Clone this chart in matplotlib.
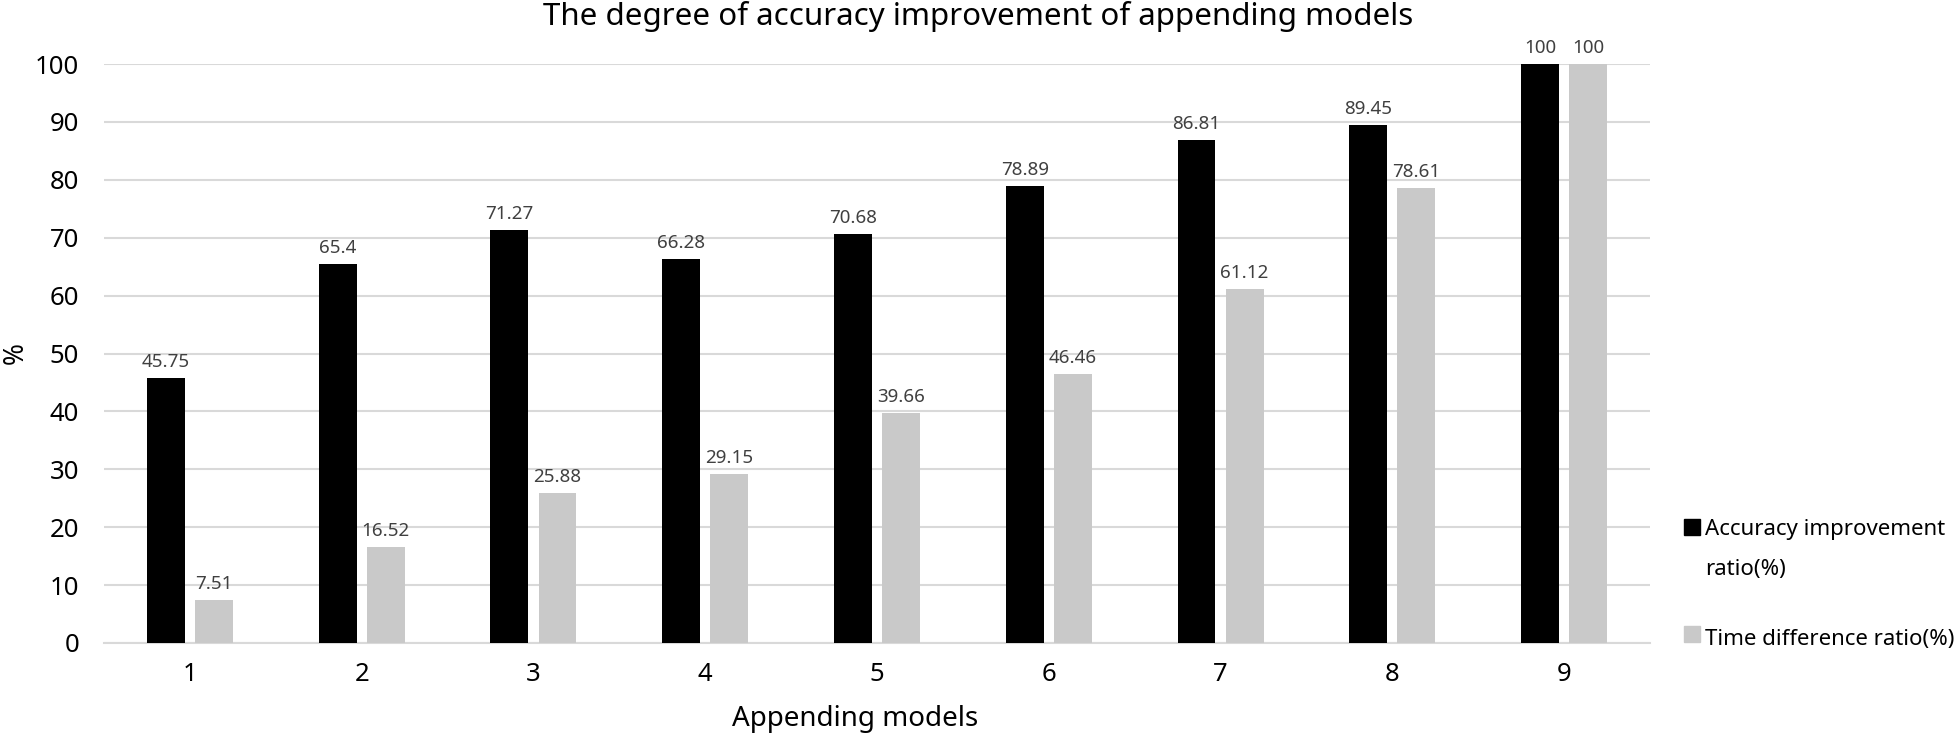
import matplotlib
matplotlib.use("Agg")
import matplotlib.pyplot as plt
import numpy as np
from matplotlib.patches import Rectangle

plt.rcParams['font.family'] = ['Noto Sans', 'DejaVu Sans']

# dados
models = ["1", "2", "3", "4", "5", "6", "7", "8", "9"]
accuracy = [45.75, 65.4, 71.27, 66.28, 70.68, 78.89, 86.81, 89.45, 100]
time_diff = [7.51, 16.52, 25.88, 29.15, 39.66, 46.46, 61.12, 78.61, 100]

black = "#000000"
gray = "#c9c9c9"
grid_c = "#d9d9d9"

W, H = 1960, 737
fig = plt.figure(figsize=(W / 100, H / 100), dpi=100)
ax = fig.add_axes([104 / W, 1 - 643 / H, 1546 / W, 579 / H])

x = np.arange(len(models))
w = 0.221
off = 0.14

b1 = ax.bar(x - off, accuracy, w, color=black, zorder=3)
b2 = ax.bar(x + off, time_diff, w, color=gray, zorder=3)

# rótulos acima das barras
for bars, vals in ((b1, accuracy), (b2, time_diff)):
    for r, v in zip(bars, vals):
        ax.annotate(f"{v:g}", (r.get_x() + r.get_width() / 2, v),
                    xytext=(0, 5), textcoords="offset points",
                    ha="center", va="bottom", fontsize=13.5, color="#404040",
                    clip_on=False)

ax.set_xlim(-0.5, len(models) - 0.5)
ax.set_ylim(0, 100)
ax.set_yticks(range(0, 101, 10))
ax.set_xticks(x)
ax.set_xticklabels(models)
ax.tick_params(axis="both", length=0, labelsize=18.5, colors="#000000")
ax.tick_params(axis="y", pad=18)
ax.tick_params(axis="x", pad=14)

ax.yaxis.grid(True, color=grid_c, linewidth=1.5, zorder=0)
for s in ("top", "right", "left"):
    ax.spines[s].set_visible(False)
ax.spines["bottom"].set_color(grid_c)
ax.spines["bottom"].set_linewidth(1.5)

ax.set_xlabel("Appending models", fontsize=20)
ax.xaxis.set_label_coords((855 - 104) / 1546, -0.107)
ax.set_ylabel("%", fontsize=19)
ax.yaxis.set_label_coords(-0.048, 0.5)
fig.text(978 / W, 0.999, "The degree of accuracy improvement of appending models",
         fontsize=22.5, ha="center", va="top")

# legenda
leg_x = 1705 / W
fig.patches.append(Rectangle((1684 / W, 1 - 535 / H), 16 / W, 16 / H,
                             transform=fig.transFigure, color=black))
fig.patches.append(Rectangle((1684 / W, 1 - 642 / H), 16 / W, 16 / H,
                             transform=fig.transFigure, color=gray))
fig.text(leg_x, 1 - 535 / H, "Accuracy improvement", fontsize=16, va="baseline")
fig.text(leg_x, 1 - 575 / H, "ratio(%)", fontsize=16, va="baseline")
fig.text(leg_x, 1 - 645 / H, "Time difference ratio(%)", fontsize=16, va="baseline")

fig.savefig("out.png", dpi=100)
